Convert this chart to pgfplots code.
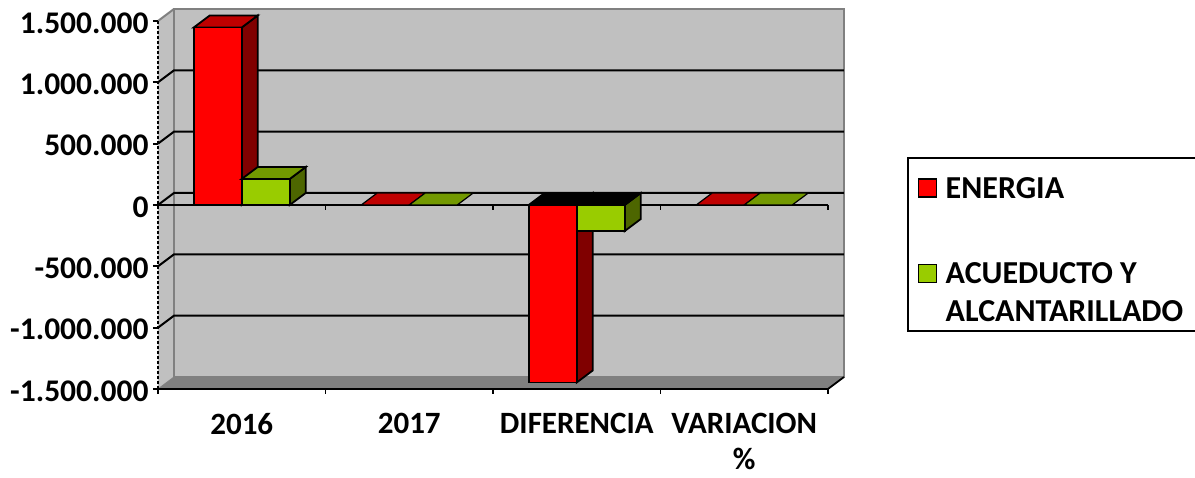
\documentclass[border=0pt]{standalone}
\usepackage{pgfplots}
\pgfplotsset{compat=1.18}
\usepackage{fontspec}
\setmainfont{Carlito}
\definecolor{wallc}{HTML}{C0C0C0}
\definecolor{floorc}{HTML}{808080}
\definecolor{redtop}{HTML}{BF0000}
\definecolor{redside}{HTML}{800000}
\definecolor{grn}{HTML}{99CC00}
\definecolor{grntop}{HTML}{739900}
\definecolor{grnside}{HTML}{4D6600}
\begin{document}
\begin{tikzpicture}[x=1pt,y=1pt]
\path[use as bounding box] (0,0) rectangle (1195,478);
\begin{axis}[
  at={(158pt,89pt)}, anchor=south west,
  scale only axis, width=670pt, height=368pt,
  xmin=0, xmax=4, ymin=-1500000, ymax=1500000,
  clip=false,
  axis on top,
  axis lines=left,
  axis line style={-, black, line width=2pt},
  y axis line style={dash pattern=on 3pt off 2pt},
  tick align=outside,
  major tick length=5pt, minor tick length=5pt,
  tick style={black, line width=1.8pt},
  major x tick style={draw=none},
  xtick={0.5,1.5,2.5,3.5},
  minor xtick={0,1,2,3,4},
  xticklabels={2016,2017,DIFERENCIA,VARIACION\\[4pt]\%},
  xticklabel style={font=\fontsize{31}{32}\selectfont\bfseries, align=center, anchor=north, yshift=-15.5pt},
  ytick={-1500000,-1000000,-500000,0,500000,1000000,1500000},
  yticklabels={-1.500.000,-1.000.000,-500.000,0,500.000,1.000.000,1.500.000},
  yticklabel style={font=\fontsize{31.5}{32}\selectfont\bfseries, anchor=east, xshift=-1pt, yshift=-2pt},
  scaled ticks=false,
  legend style={at={(1.1175,0.630)}, anchor=north west, draw=black, line width=2pt,
    inner xsep=9pt, inner ysep=9pt, row sep=63pt,
    nodes={anchor=base west, inner sep=0pt},
    font=\fontsize{32}{38}\selectfont\bfseries, fill=white},
]
% walls and floor
\addplot[forget plot, fill=wallc, draw=none] coordinates {(0,1500000) (0.0955,1597800) (0.0955,-1402200) (0,-1500000)} --cycle;
\addplot[forget plot, fill=wallc, draw=floorc, line width=2pt] coordinates {(0.0955,1597800) (4.0955,1597800) (4.0955,-1402200) (0.0955,-1402200)} --cycle;
\addplot[forget plot, floorc, line width=2pt] coordinates {(0,1500000) (0.0955,1597800)};
\addplot[forget plot, fill=floorc, draw=floorc, line width=0.8pt] coordinates {(0,-1500000) (0.0955,-1402200) (4.0955,-1402200) (4,-1500000)} --cycle;
\addplot[forget plot, black, line width=1.8pt] coordinates {(4,-1500000) (4.0955,-1402200)};
% gridlines
\addplot[forget plot, black, line width=2pt] coordinates {(0,1000000) (0.0955,1097800) (4.0955,1097800)};
\addplot[forget plot, black, line width=2pt] coordinates {(0,500000) (0.0955,597800) (4.0955,597800)};
\addplot[forget plot, black, line width=2pt] coordinates {(0,0) (0.0955,97800) (4.0955,97800)};
\addplot[forget plot, black, line width=2pt] coordinates {(0,-500000) (0.0955,-402200) (4.0955,-402200)};
\addplot[forget plot, black, line width=2pt] coordinates {(0,-1000000) (0.0955,-902200) (4.0955,-902200)};
% zero line and its ticks
\addplot[forget plot, black, line width=2pt] coordinates {(0,0) (4,0)};
\addplot[forget plot, black, line width=1.8pt] coordinates {(1,0) (1,-40000)};
\addplot[forget plot, black, line width=1.8pt] coordinates {(2,0) (2,-40000)};
\addplot[forget plot, black, line width=1.8pt] coordinates {(3,0) (3,-40000)};
\addplot[forget plot, black, line width=1.8pt] coordinates {(4,0) (4,-40000)};
% 2016
\addplot[forget plot, fill=redside, draw=black, line width=1.8pt] coordinates {(0.5,1447000) (0.5955,1544800) (0.5955,97800) (0.5,0)} --cycle;
\addplot[forget plot, fill=redtop, draw=black, line width=1.8pt] coordinates {(0.2134,1447000) (0.3089,1544800) (0.5955,1544800) (0.5,1447000)} --cycle;
\addplot[forget plot, fill=red, draw=black, line width=1.8pt] coordinates {(0.2134,0) (0.2134,1447000) (0.5,1447000) (0.5,0)} --cycle;
\addplot[forget plot, fill=grnside, draw=black, line width=1.8pt] coordinates {(0.7866,212000) (0.8821,309800) (0.8821,97800) (0.7866,0)} --cycle;
\addplot[forget plot, fill=grntop, draw=black, line width=1.8pt] coordinates {(0.5,212000) (0.5955,309800) (0.8821,309800) (0.7866,212000)} --cycle;
\addplot[forget plot, fill=grn, draw=black, line width=1.8pt] coordinates {(0.5,0) (0.5,212000) (0.7866,212000) (0.7866,0)} --cycle;
% 2017
\addplot[forget plot, fill=redtop, draw=black, line width=1.2pt] coordinates {(1.2134,0) (1.3089,97800) (1.5955,97800) (1.5,0)} --cycle;
\addplot[forget plot, fill=grntop, draw=black, line width=1.2pt] coordinates {(1.5,0) (1.5955,97800) (1.8821,97800) (1.7866,0)} --cycle;
% DIFERENCIA
\addplot[forget plot, fill=redside, draw=black, line width=1.8pt] coordinates {(2.5,0) (2.5955,97800) (2.5955,-1349200) (2.5,-1447000)} --cycle;
\addplot[forget plot, fill=black, draw=black, line width=1.8pt] coordinates {(2.2134,0) (2.3089,97800) (2.5955,97800) (2.5,0)} --cycle;
\addplot[forget plot, fill=red, draw=black, line width=1.8pt] coordinates {(2.2134,0) (2.2134,-1447000) (2.5,-1447000) (2.5,0)} --cycle;
\addplot[forget plot, fill=grnside, draw=black, line width=1.8pt] coordinates {(2.7866,0) (2.8821,97800) (2.8821,-114200) (2.7866,-212000)} --cycle;
\addplot[forget plot, fill=black, draw=black, line width=1.8pt] coordinates {(2.5,0) (2.5955,97800) (2.8821,97800) (2.7866,0)} --cycle;
\addplot[forget plot, fill=grn, draw=black, line width=1.8pt] coordinates {(2.5,0) (2.5,-212000) (2.7866,-212000) (2.7866,0)} --cycle;
% VARIACION %
\addplot[forget plot, fill=redtop, draw=black, line width=1.2pt] coordinates {(3.2134,0) (3.3089,97800) (3.5955,97800) (3.5,0)} --cycle;
\addplot[forget plot, fill=grntop, draw=black, line width=1.2pt] coordinates {(3.5,0) (3.5955,97800) (3.8821,97800) (3.7866,0)} --cycle;
% legend
\addlegendimage{legend image code/.code={\draw[black,line width=1.5pt,fill=red] (2pt,1pt) rectangle (20pt,19pt);\path[draw=none,fill=none] (0pt,0pt) rectangle (29pt,1pt);}}
\addlegendentry{\rule{0pt}{31pt}ENERGIA}
\addlegendimage{legend image code/.code={\draw[black,line width=1.5pt,fill=grn] (2pt,1pt) rectangle (20pt,19pt);\path[draw=none,fill=none] (0pt,-38pt) rectangle (29pt,1pt);}}
\addlegendentry{\parbox[t]{300pt}{ACUEDUCTO Y\\ALCANTARILLADO}}
\end{axis}
\end{tikzpicture}
\end{document}
